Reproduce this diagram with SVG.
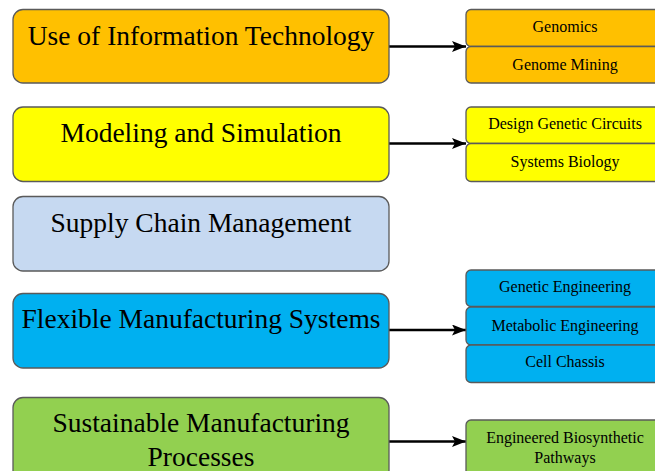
<svg xmlns="http://www.w3.org/2000/svg" width="655" height="471" viewBox="0 0 655 471">
<defs>
<marker id="ah" viewBox="0 0 14 11" refX="14" refY="5.5" markerWidth="14" markerHeight="11" markerUnits="userSpaceOnUse" orient="auto">
<path d="M0,0 L14,5.5 L0,11 L3,5.5 Z" fill="#000"/>
</marker>
</defs>
<style>
.main{stroke:#5a5a5a;stroke-width:1.3}
.sub{stroke:#5a5a5a;stroke-width:1.3}
.t1{font-family:"Liberation Serif","Times New Roman",serif;font-size:27.5px;fill:#000;text-anchor:middle}
.t2{font-family:"Liberation Serif","Times New Roman",serif;font-size:16px;fill:#000;text-anchor:middle}
.orange{fill:#FFC000}
.yellow{fill:#FFFF00}
.lblue{fill:#C6D9F1}
.blue{fill:#00B0F0}
.green{fill:#92D050}
.conn{stroke:#000;stroke-width:2.6;fill:none}
</style>
<rect width="655" height="471" fill="#fff"/>
<g id="connectors">
<line class="conn" x1="389" y1="46.5" x2="466" y2="46.5" marker-end="url(#ah)"/>
<line class="conn" x1="389" y1="143.5" x2="466" y2="143.5" marker-end="url(#ah)"/>
<line class="conn" x1="389" y1="330" x2="466" y2="330" marker-end="url(#ah)"/>
<line class="conn" x1="389" y1="441.5" x2="466" y2="441.5" marker-end="url(#ah)"/>
</g>
<g id="n-it">
<rect class="main orange" x="13" y="9.5" width="376" height="73.5" rx="10"/>
<text class="t1" x="201" y="45">Use of Information Technology</text>
</g>
<g id="n-model">
<rect class="main yellow" x="13" y="107" width="376" height="74.5" rx="10"/>
<text class="t1" x="201" y="142">Modeling and Simulation</text>
</g>
<g id="n-supply">
<rect class="main lblue" x="13" y="196.5" width="376" height="74.5" rx="10"/>
<text class="t1" x="201" y="232">Supply Chain Management</text>
</g>
<g id="n-flex">
<rect class="main blue" x="13" y="293.5" width="376" height="74.5" rx="10"/>
<text class="t1" x="201" y="328">Flexible Manufacturing Systems</text>
</g>
<g id="n-sust">
<rect class="main green" x="13" y="397.5" width="376" height="84" rx="10"/>
<text class="t1" x="201" y="432">Sustainable Manufacturing</text>
<text class="t1" x="201" y="465.5">Processes</text>
</g>
<g id="n-genomics">
<rect class="sub orange" x="466" y="9.5" width="200" height="37" rx="5"/>
<text class="t2" x="565" y="32">Genomics</text>
</g>
<g id="n-genome-mining">
<rect class="sub orange" x="466" y="46.5" width="200" height="36.5" rx="5"/>
<text class="t2" x="565" y="70">Genome Mining</text>
</g>
<g id="n-circuits">
<rect class="sub yellow" x="466" y="107" width="200" height="36.5" rx="5"/>
<text class="t2" x="565" y="128.5">Design Genetic Circuits</text>
</g>
<g id="n-sysbio">
<rect class="sub yellow" x="466" y="143.5" width="200" height="38" rx="5"/>
<text class="t2" x="565" y="167">Systems Biology</text>
</g>
<g id="n-geneng">
<rect class="sub blue" x="466" y="270" width="200" height="36.5" rx="5"/>
<text class="t2" x="565" y="292">Genetic Engineering</text>
</g>
<g id="n-meteng">
<rect class="sub blue" x="466" y="307" width="200" height="38" rx="5"/>
<text class="t2" x="565" y="330.5">Metabolic Engineering</text>
</g>
<g id="n-chassis">
<rect class="sub blue" x="466" y="345" width="200" height="37.5" rx="5"/>
<text class="t2" x="565" y="367">Cell Chassis</text>
</g>
<g id="n-pathways">
<rect class="sub green" x="466" y="420" width="200" height="60" rx="5"/>
<text class="t2" x="565" y="443">Engineered Biosynthetic</text>
<text class="t2" x="565" y="463">Pathways</text>
</g>
</svg>
